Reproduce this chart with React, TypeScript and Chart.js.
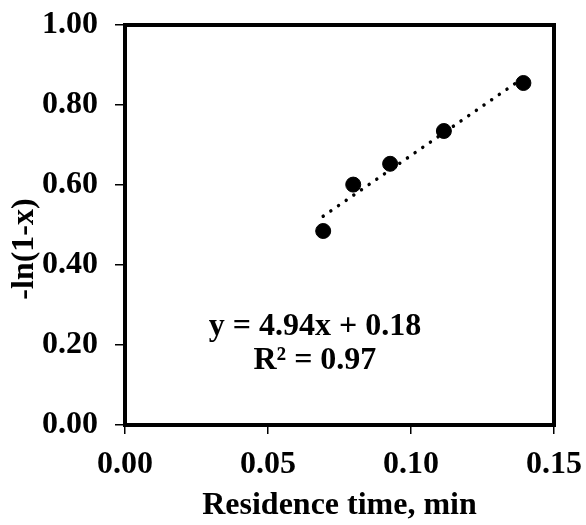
import React, { useEffect, useRef } from "react";
import { Chart, registerables } from "chart.js";

Chart.register(...registerables);

const residenceTime = [0.0693, 0.0798, 0.0927, 0.1115, 0.1393];
const lnValues = [0.485, 0.601, 0.653, 0.735, 0.855];
const trendX = [0.0693, 0.1393];
const trendY = [0.522, 0.868];
const equationLines = ["y = 4.94x + 0.18", "R² = 0.97"];
const xTitle = "Residence time, min";
const yTitle = "-ln(1-x)";

const FONT = "'Liberation Serif', 'Times New Roman', serif";

export default function App() {
  const ref = useRef<HTMLCanvasElement | null>(null);

  useEffect(() => {
    if (!ref.current) return;
    const framePlugin = {
      id: "frame",
      afterDraw(chart: any) {
        const { ctx, chartArea } = chart;
        ctx.save();
        ctx.strokeStyle = "#000";
        ctx.lineWidth = 4;
        ctx.strokeRect(
          chartArea.left,
          chartArea.top,
          chartArea.right - chartArea.left,
          chartArea.bottom - chartArea.top
        );
        ctx.fillStyle = "#000";
        ctx.font = `bold 32px ${FONT}`;
        ctx.textAlign = "center";
        ctx.textBaseline = "alphabetic";
        const xs = chart.scales.x;
        const ys = chart.scales.y;
        const cx = xs.getPixelForValue(0.0664);
        ctx.fillText(equationLines[0], cx, ys.getPixelForValue(0.226));
        ctx.fillText(equationLines[1], cx, ys.getPixelForValue(0.139));
        // y axis title (offset below centre, as in the reference)
        ctx.translate(ys.left + 25, ys.getPixelForValue(0.44));
        ctx.rotate(-Math.PI / 2);
        ctx.textBaseline = "middle";
        ctx.fillText(yTitle, 0, 0);
        ctx.restore();
      },
    };

    const zeroPad = (scale: any) => {
      scale.paddingTop = 0;
      scale.paddingBottom = 0;
      scale.paddingLeft = 0;
      scale.paddingRight = 0;
    };

    const chart = new Chart(ref.current, {
      type: "scatter",
      data: {
        datasets: [
          {
            type: "line",
            data: trendX.map((x, i) => ({ x, y: trendY[i] })),
            borderColor: "#000",
            borderWidth: 3.5,
            borderDash: [0.01, 9.3],
            borderCapStyle: "round",
            pointRadius: 0,
            fill: false,
          } as any,
          {
            data: residenceTime.map((x, i) => ({ x, y: lnValues[i] })),
            backgroundColor: "#000",
            borderColor: "#000",
            pointRadius: 7.5,
            pointHoverRadius: 7.5,
          },
        ],
      },
      options: {
        animation: false,
        responsive: false,
        events: [],
        layout: { padding: { left: 0, right: 32, top: 25, bottom: 0 } },
        plugins: { legend: { display: false }, tooltip: { enabled: false } },
        scales: {
          x: {
            type: "linear",
            min: 0,
            max: 0.15,
            afterFit(scale: any) {
              scale.height = 100;
              zeroPad(scale);
            },
            ticks: {
              stepSize: 0.05,
              color: "#000",
              font: { family: FONT, size: 32, weight: "bold" },
              padding: 12,
              callback: (v: any) => Number(v).toFixed(2),
            },
            grid: {
              drawOnChartArea: false,
              drawTicks: true,
              tickLength: 9,
              color: "#000",
              lineWidth: 1.5,
            },
            border: { display: false },
            title: {
              display: true,
              text: xTitle,
              color: "#000",
              font: { family: FONT, size: 32, weight: "bold" },
              padding: { top: 1, bottom: 0 },
            },
          },
          y: {
            type: "linear",
            min: 0,
            max: 1,
            afterFit(scale: any) {
              scale.width = 125;
              zeroPad(scale);
            },
            ticks: {
              stepSize: 0.2,
              color: "#000",
              font: { family: FONT, size: 32, weight: "bold" },
              padding: 17,
              callback: (v: any) => Number(v).toFixed(2),
            },
            grid: {
              drawOnChartArea: false,
              drawTicks: true,
              tickLength: 10,
              color: "#000",
              lineWidth: 1.5,
            },
            border: { display: false },
            title: { display: false },
          },
        },
      },
      plugins: [framePlugin],
    });
    return () => chart.destroy();
  }, []);

  return (
    <div style={{ position: "fixed", left: 0, top: 0, width: 586, height: 525, background: "#fff" }}>
      <canvas ref={ref} width={586} height={525} />
    </div>
  );
}
